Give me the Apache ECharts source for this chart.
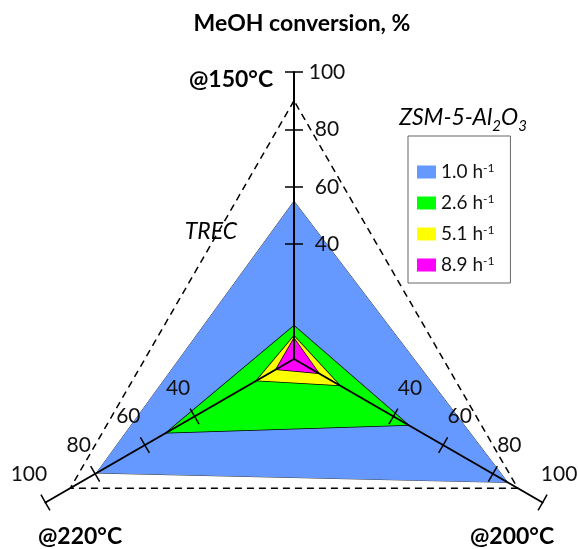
<!DOCTYPE html>
<html lang="en">
<head>
<meta charset="UTF-8">
<title>MeOH conversion</title>
<script src="https://cdn.jsdelivr.net/npm/echarts@6/dist/echarts.min.js"></script>
<style>html,body{margin:0;padding:0;background:#fff}</style>
</head>
<body>
<div id="chart" style="width:578px;height:549px;"></div>
<script>
// axes, in radar order: top, bottom-left, bottom-right
var temps = ['@150°C', '@220°C', '@200°C'];
// WHSV series (legend names)
var whsv = ['1.0 h-1', '2.6 h-1', '5.1 h-1', '8.9 h-1'];
// MeOH conversion, % at [150, 220, 200 °C]
var conv10 = [55, 79.5, 86];
var conv26 = [11.6, 51.4, 46];
var conv51 = [8, 15, 18.3];
var conv89 = [7.2, 7.2, 10];
var tickValues = [40, 60, 80, 100];
var trecLevel = 90;

var fills = ['#6699ff', '#00ff00', '#ffff00', '#ff00ff'];
var center = [294, 359];
var radius = 287;
var font = 'Lato';

var chart = echarts.init(document.getElementById('chart'));

// label side differs per axis
var labelMargins = [-33, -33, 33];

// dashed TREC ring: one visible split line out of 11
var ringColors = [];
for (var i = 0; i <= 10; i++) {
    ringColors.push(i === trecLevel / 10 ? '#000' : 'rgba(0,0,0,0)');
}

function indicators(withLabels) {
    return temps.map(function (t, i) {
        var ind = { name: t, min: 0, max: 100 };
        if (withLabels) {
            ind.axisLabel = {
                show: true,
                customValues: tickValues,
                margin: labelMargins[i],
                align: 'center',
                verticalAlign: 'middle',
                color: '#111',
                fontSize: 21,
                fontFamily: font
            };
        }
        return ind;
    });
}

function baseRadar() {
    return {
        center: center,
        radius: radius,
        startAngle: 90,
        shape: 'polygon',
        z: 3,
        axisName: { show: false },
        splitArea: { show: false }
    };
}

var radarAxes = Object.assign(baseRadar(), {
    indicator: indicators(true),
    splitNumber: 5,
    axisLine: { lineStyle: { color: '#000', width: 2 } },
    axisTick: { show: true, length: 9, customValues: tickValues, lineStyle: { color: '#000', width: 1.5 } },
    splitLine: { show: false }
});

var radarTicks2 = Object.assign(baseRadar(), {
    indicator: indicators(false),
    splitNumber: 5,
    axisLine: { show: false },
    axisTick: { show: true, length: -9, customValues: tickValues, lineStyle: { color: '#000', width: 1.5 } },
    axisLabel: { show: false },
    splitLine: { show: false }
});

var radarRing = Object.assign(baseRadar(), {
    indicator: indicators(false),
    splitNumber: 10,
    axisLine: { show: false },
    axisTick: { show: false },
    axisLabel: { show: false },
    splitLine: { show: true, lineStyle: { color: ringColors, width: 1.5, type: [7, 5] } }
});

var allConv = [conv10, conv26, conv51, conv89];
var seriesData = whsv.map(function (n, i) {
    return {
        name: n,
        value: allConv[i],
        itemStyle: { color: fills[i] },
        lineStyle: { color: i === 0 ? '#444' : '#000', width: i === 0 ? 1 : 1.5 },
        areaStyle: { color: fills[i], opacity: 1 }
    };
});

function label(text, x, y, bold, italic, size) {
    return {
        text: text,
        left: x,
        top: y,
        padding: 0,
        textAlign: 'center',
        textVerticalAlign: 'middle',
        textStyle: {
            fontFamily: font,
            fontSize: size || 20,
            fontWeight: bold ? 'bold' : 'normal',
            fontStyle: italic ? 'italic' : 'normal',
            color: '#000',
            rich: {
                sub: { fontFamily: font, fontSize: 15, fontStyle: 'italic', verticalAlign: 'bottom', lineHeight: 31 }
            }
        }
    };
}

var option = {
    animation: false,
    textStyle: { fontFamily: font },
    title: [
        label('MeOH conversion, %', 302, 24, true, false, 23),
        label('@150°C', 231, 80, true, false, 23),
        label('TREC', 211, 232, false, true, 23),
        label('@220°C', 80, 537, true, false, 23),
        label('@200°C', 512, 537, true, false, 23),
        label('ZSM-5-Al{sub|2}O{sub|3}', 463, 118, false, true, 23)
    ],
    legend: {
        orient: 'vertical',
        left: 408,
        top: 136,
        data: whsv,
        icon: 'rect',
        itemWidth: 19,
        itemHeight: 13,
        itemGap: 11,
        padding: [26, 16, 8, 9],
        borderColor: '#666',
        borderWidth: 1,
        backgroundColor: '#fff',
        selectedMode: false,
        textStyle: {
            fontFamily: font,
            fontSize: 19,
            color: '#111',
            lineHeight: 20,
            rich: { sup: { fontFamily: font, fontSize: 12, verticalAlign: 'top', lineHeight: 12 } }
        },
        formatter: function (n) {
            return n.replace('h-1', 'h{sup|-1}');
        }
    },
    radar: [radarAxes, radarTicks2, radarRing],
    series: [{
        type: 'radar',
        radarIndex: 0,
        symbol: 'none',
        z: 2,
        data: seriesData
    }]
};

chart.setOption(option);
</script>
</body>
</html>
